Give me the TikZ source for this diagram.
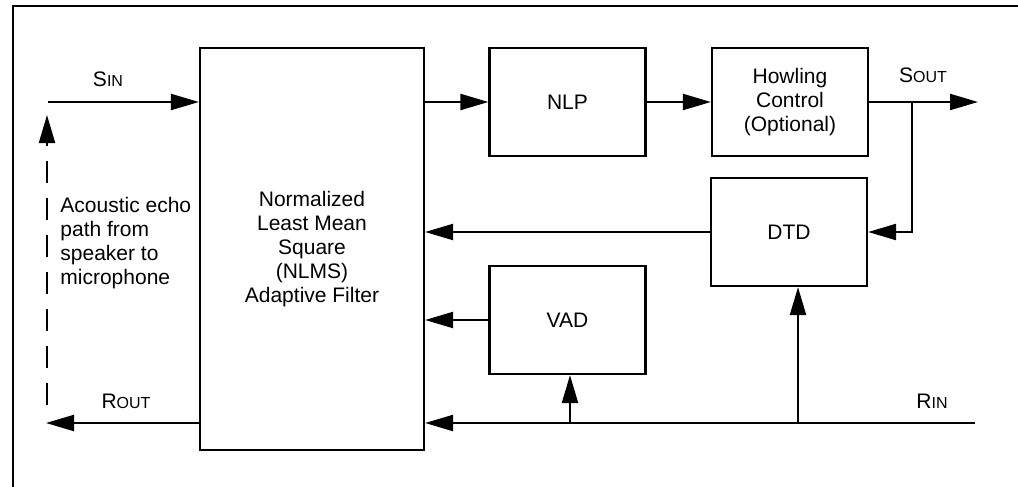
\documentclass[tikz,border=0pt]{standalone}
\usepackage{fontspec}
\setmainfont{Liberation Sans}
\usetikzlibrary{arrows.meta}
\newcommand{\smallcap}[2]{#1{\fontsize{8}{9}\selectfont #2}}

\tikzset{
  block/.style={draw, line width=1.1pt, inner sep=0pt, align=center,
    minimum width=78pt, minimum height=54pt},
  sig/.style={line width=1.1pt, -{Triangle[length=14pt,width=8pt]}},
}

\begin{document}
\begin{tikzpicture}[x=0.5pt, y=-0.5pt, font=\fontsize{10.5}{12}\selectfont]
\useasboundingbox (0,0) rectangle (1018,487);
% frame
\draw[line width=1.3pt] (13,487) -- (13,6) -- (1018,6);

% blocks
\node[block, minimum width=112pt, minimum height=201pt] (nlms) at (312,249)
  {Normalized\\Least Mean\\Square\\(NLMS)\\Adaptive Filter};
\node[block] (nlp) at (567.5,102) {NLP};
\node[block] (howl) at (790,102) {Howling\\Control\\(Optional)};
\node[block] (dtd) at (789,232) {DTD};
\node[block] (vad) at (567.5,320) {VAD};

% free ends and taps
\coordinate (sin) at (48,102);
\coordinate (sout) at (978,102);
\coordinate (rin) at (975,423);
\coordinate (rout) at (46,423);
\coordinate (echoA) at (47,405);
\coordinate (echoB) at (47,115);
\coordinate (tap) at (912,102);
\coordinate (tapvad) at (570,423);
\coordinate (tapdtd) at (798,423);

% signal paths
\draw[sig] (sin) -- (sin -| nlms.west);
\draw[sig] (nlms.east |- nlp) -- (nlp);
\draw[sig] (nlp) -- (howl);
\draw[sig] (howl) -- (sout);
\draw[sig] (tap) |- (dtd.east);
\draw[sig] (dtd) -- (dtd -| nlms.east);
\draw[sig] (vad) -- (vad -| nlms.east);
\draw[sig] (rin) -- (rin -| nlms.east);
\draw[sig] (tapvad) -- (tapvad |- vad.south);
\draw[sig] (tapdtd) -- (tapdtd |- dtd.south);
\draw[sig] (rout -| nlms.west) -- (rout);
\draw[sig, dash pattern=on 11pt off 7.5pt] (echoA) -- (echoB);

% labels
\node[anchor=base] (lsin) at (108,86) {\smallcap{S}{IN}};
\node[anchor=base] (lsout) at (923,82) {\smallcap{S}{OUT}};
\node[anchor=base] (lrout) at (126,408) {\smallcap{R}{OUT}};
\node[anchor=base] (lrin) at (932,408) {\smallcap{R}{IN}};
\node[anchor=north west, align=left, inner sep=0pt] (echo) at (60,197)
  {Acoustic echo\\path from\\speaker to\\microphone};
\end{tikzpicture}
\end{document}
